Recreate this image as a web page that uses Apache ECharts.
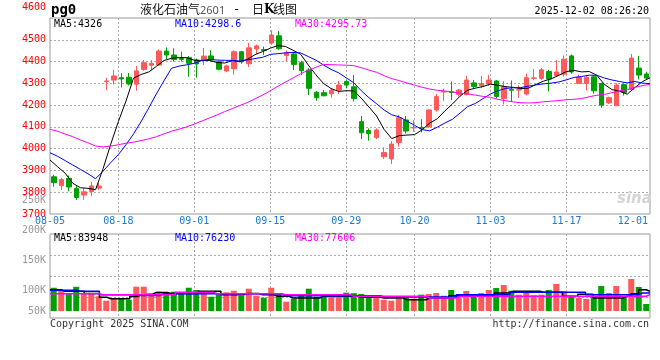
<!DOCTYPE html>
<html><head><meta charset="utf-8">
<script src="https://cdn.jsdelivr.net/npm/echarts@6/dist/echarts.min.js"></script>
<style>html,body{margin:0;padding:0;background:#fff}#c{width:660px;height:360px}</style>
</head><body><div id="c"></div>
<script>
const dates = ['08-05','08-06','08-07','08-08','08-11','08-12','08-13','08-14','08-15','08-18','08-19','08-20','08-21','08-22','08-25','08-26','08-27','08-28','08-29','09-01','09-02','09-03','09-04','09-05','09-08','09-09','09-10','09-11','09-12','09-15','09-16','09-17','09-18','09-19','09-22','09-23','09-24','09-25','09-26','09-29','09-30','10-09','10-10','10-13','10-14','10-15','10-16','10-17','10-20','10-21','10-22','10-23','10-24','10-27','10-28','10-29','10-30','10-31','11-03','11-04','11-05','11-06','11-07','11-10','11-11','11-12','11-13','11-14','11-17','11-18','11-19','11-20','11-21','11-24','11-25','11-26','11-27','11-28','12-01','12-02'];
const tickDates = ['08-05','08-18','09-01','09-15','09-29','10-20','11-03','11-17','12-01'];

const opens = [3871,3830,3864,3818,3787,3803,3819,4308,4315,4326,
4328,4296,4364,4383,4384,4448,4430,4414,4418,4407,
4404,4426,4399,4357,4367,4445,4390,4458,4455,4485,
4518,4428,4435,4395,4361,4259,4257,4252,4269,4308,
4284,4124,4083,4051,3963,3953,4028,4132,4095,4098,
4101,4178,4260,4261,4249,4248,4302,4289,4297,4311,
4230,4272,4269,4251,4323,4323,4354,4336,4342,4426,
4299,4299,4330,4299,4210,4197,4294,4272,4370,4343];
const closes = [3844,3858,3824,3776,3802,3829,3828,4311,4334,4320,
4297,4357,4395,4392,4448,4430,4410,4410,4392,4389,
4425,4407,4365,4380,4445,4399,4463,4472,4451,4522,
4459,4442,4387,4358,4277,4234,4243,4269,4292,4292,
4230,4073,4069,4086,3982,4021,4142,4081,4097,4092,
4178,4239,4263,4258,4269,4315,4285,4299,4315,4240,
4285,4268,4271,4326,4325,4362,4320,4352,4411,4352,
4328,4328,4266,4200,4234,4292,4258,4416,4338,4324];
const lows = [3825,3810,3804,3765,3765,3782,3810,4269,4295,4281,
4290,4266,4358,4360,4380,4410,4400,4400,4330,4326,
4384,4400,4360,4351,4340,4390,4375,4435,4431,4477,
4454,4403,4361,4338,4246,4220,4240,4234,4251,4277,
4217,4044,4037,4044,3953,3930,4009,4070,4078,4075,
4096,4170,4220,4223,4239,4245,4277,4279,4288,4231,
4203,4215,4233,4244,4314,4315,4263,4333,4330,4344,
4298,4267,4253,4188,4205,4196,4244,4265,4318,4318];
const highs = [3880,3866,3877,3833,3818,3848,3843,4325,4361,4347,
4348,4380,4407,4407,4456,4465,4461,4445,4425,4414,
4462,4452,4402,4386,4452,4449,4485,4478,4469,4543,
4540,4451,4445,4404,4369,4265,4269,4275,4311,4315,
4338,4150,4093,4093,4006,4035,4155,4150,4132,4135,
4181,4251,4276,4308,4274,4334,4315,4334,4338,4315,
4310,4313,4290,4345,4366,4370,4362,4407,4428,4433,
4340,4338,4338,4303,4239,4300,4300,4435,4426,4353];

const ma5 = [3948,3917,3887,3841,3820.8,3817.8,3811.8,3909.2,4020.8,4124.4,
4218,4323.8,4340.6,4352.2,4377.8,4404.4,4415,4418,4418,4406.2,
4405.2,4404.6,4395.6,4393.2,4404.4,4399.2,4410.4,4431.8,4446,4461.4,
4473.4,4469.2,4452.2,4433.6,4384.6,4339.6,4299.8,4276.2,4263,4266,
4265.2,4231.2,4191.2,4150,4088,4046.2,4060,4062.4,4064.6,4086.6,
4118,4137.4,4173.6,4205.8,4241.2,4268.6,4277.8,4285.2,4296.6,4290.8,
4284.8,4281.4,4275.8,4278,4295,4310.4,4320.8,4337,4354,4359.4,
4352.6,4354.2,4337,4294.8,4271.2,4264,4250,4280,4307.6,4325.6];
const ma10 = [3981,3965,3945,3925,3905,3885,3862,3897,3936,3972.6,
4017.9,4067.8,4124.9,4186.5,4251.1,4311.2,4369.4,4379.3,4385.1,4392,
4404.8,4409.8,4406.8,4405.6,4405.3,4402.2,4407.5,4413.7,4419.6,4432.9,
4436.3,4439.8,4442,4439.8,4423,4406.5,4384.5,4364.2,4348.3,4325.3,
4302.4,4265.5,4233.7,4206.5,4177,4155.7,4145.6,4126.8,4107.3,4087.3,
4082.1,4098.7,4118,4135.2,4163.9,4193.3,4207.6,4229.4,4251.2,4266,
4276.7,4279.6,4280.5,4287.3,4292.9,4297.6,4301.1,4306.4,4316,4327.2,
4331.5,4337.5,4337,4324.4,4315.3,4308.3,4302.1,4308.5,4301.2,4298.6];
const ma30 = [4089,4080,4067,4055,4040,4027,4012,4008,4012,4018,
4025,4030,4037,4045,4055,4068,4080,4090,4100,4113,
4127,4141,4155,4170,4184,4198,4212,4229,4246,4265.8,
4286.3,4305.8,4324.6,4344,4359.8,4373.3,4387.1,4385.7,4384.3,4383.4,
4381.2,4371.7,4360.8,4350.6,4335.1,4321.5,4312.5,4301.6,4291.7,4281.8,
4273.6,4268,4264.6,4260.5,4254.6,4251.8,4245.9,4240.1,4235.6,4226.2,
4220.4,4214.6,4210.7,4209.7,4211.3,4215.5,4218.1,4220.9,4224.8,4226.8,
4230.1,4238.6,4245.2,4249,4257.4,4266.4,4270.3,4281.4,4289.5,4295.73];

const volumes = [103700,98300,95000,105300,95000,93300,89500,82200,86200,85000,
83800,105500,105500,90000,97200,96200,97200,94500,103800,100000,
98300,88800,94500,96200,98800,90500,102200,90500,87200,103800,
95000,80500,85500,90000,102200,88300,88300,88800,90000,95500,
94700,93300,90500,86700,83800,82200,85500,86700,85500,92200,
93300,95000,90500,100000,90500,98300,92200,95000,100000,103300,
108300,98800,92200,95000,91200,92200,100000,110000,97800,90500,
86700,85000,89500,106700,95000,106700,86700,118300,105000,76700];
const vma5 = [100500,100500,97800,97800,97800,94000,94000,88000,85500,85500,
85500,89000,92000,93000,96000,96000,94000,94000,94000,94000,
97800,97800,97800,92000,92000,92000,94000,94000,92000,92000,
89500,89500,86700,86700,86700,86700,89500,89500,89500,89500,
89500,88000,88000,88000,86700,86700,86700,83800,83800,83800,
86700,86700,86700,90500,90500,90500,90500,90500,90500,95000,
95000,97800,97800,97800,97800,96200,96200,96200,89500,89500,
93000,93000,86700,86700,86700,86700,89500,93800,100500,97800];
const vma10 = [99500,99500,99500,99500,97800,97800,97800,92200,92200,92200,
92200,92200,91000,91000,91000,93800,93800,93800,93800,93800,
93800,93800,93800,93800,93800,93800,93800,93800,93800,93800,
93800,90500,90500,90500,90500,90500,90500,90500,90500,90500,
90500,90500,90500,90500,88300,88300,88300,88300,88300,88300,
88300,88300,88300,88300,92200,92200,92200,92200,92200,92200,
92200,96200,96200,96200,96200,96200,96200,96200,96200,96200,
96200,92200,92200,92200,92200,92200,92200,92200,95000,95000];
const vma30 = [93800,93800,93800,93800,93800,93800,93800,92200,92200,92200,
92200,92200,92200,92200,92200,92200,92200,96200,96200,96200,
96200,96200,93800,93800,93800,93800,93800,93800,93800,93800,
93800,92200,92200,92200,92200,92200,92200,92200,92200,92200,
89500,89500,89500,89500,89500,89500,89500,89500,89500,89500,
86700,86700,86700,86700,89500,89500,89500,89500,89500,89500,
89500,89500,89500,89500,89500,89500,89500,89500,89500,89500,
89500,89500,89500,89500,89500,89500,89500,89500,89500,92200];
const volMaText = ['83948','76230','77606'];
const priceTicks = [3700, 4600, 100];
const volTicks = [50000, 250000, 50000];

const RED = '#ff5a5a', GREEN = '#00a000';
const MONO = '"DejaVu Sans Mono", monospace';
const GRIDC = '#aaaaaa';
const lastTick = dates.indexOf('12-01');
const isTick = i => tickDates.indexOf(dates[i]) >= 0;
const isLine = i => isTick(i) && i > 0 && i < lastTick;

function txt(x, y, text, color, font, align) {
  return {type:'text', x:x, y:y, silent:true, z:100,
    style:{text:text, fill:color, font:font, align:align||'left', verticalAlign:'middle',
           textAlign:align||'left', textVerticalAlign:'middle'}};
}
const dotted = {color:GRIDC, type:[2,2], width:1};

const chart = echarts.init(document.getElementById('c'), null, {renderer:'canvas'});
const option = {
  animation:false,
  backgroundColor:'#fff',
  grid:[
    {left:50, top:18, width:600, height:196, show:true, borderColor:'#999', borderWidth:1, backgroundColor:'transparent'},
    {left:50, top:234, width:600, height:77},
    {left:50, top:200, width:600, height:120},
    {left:50, top:234, width:600, height:84, show:true, borderColor:'#999', borderWidth:1, backgroundColor:'transparent'}
  ],
  xAxis:[
    {type:'category', gridIndex:0, data:dates, boundaryGap:true, show:false},
    {type:'category', gridIndex:0, data:dates, boundaryGap:false, position:'bottom',
      axisLine:{show:false}, axisTick:{show:false},
      axisLabel:{interval:(i)=>isTick(i), color:'#1a78d2', fontFamily:MONO, fontSize:10, margin:2,
        formatter:(v, i)=> i===lastTick ? '{e|'+v+'}' : v,
        rich:{e:{padding:[0,19,0,0], color:'#1a78d2', fontFamily:MONO, fontSize:10}}},
      splitLine:{show:true, interval:(i)=>isLine(i), lineStyle:dotted}},
    {type:'category', gridIndex:1, data:dates, boundaryGap:true, show:false},
    {type:'category', gridIndex:1, data:dates, boundaryGap:false, show:false},
    {type:'category', gridIndex:2, data:dates, show:false},
    {type:'category', gridIndex:3, data:dates, boundaryGap:false,
      axisLine:{show:false}, axisTick:{show:false}, axisLabel:{show:false},
      splitLine:{show:true, interval:(i)=>isLine(i), lineStyle:dotted}}
  ],
  yAxis:[
    {type:'value', gridIndex:0, min:priceTicks[0], max:priceTicks[1], interval:priceTicks[2],
      axisLine:{show:false}, axisTick:{show:false},
      axisLabel:{color:'#ff0000', fontFamily:MONO, fontSize:10, margin:4,
        formatter:(v)=> v===priceTicks[1] ? '{t|'+v+'}' : String(v),
        rich:{t:{padding:[0,0,22,0], color:'#ff0000', fontFamily:MONO, fontSize:10}}},
      splitLine:{show:true, showMinLine:false, showMaxLine:false, lineStyle:dotted}},
    {type:'value', gridIndex:1, min:65000, max:193333, show:false, splitLine:{show:false}},
    {type:'value', gridIndex:2, min:volTicks[0], max:volTicks[1], interval:volTicks[2],
      axisLine:{show:false}, axisTick:{show:false}, splitLine:{show:false},
      axisLabel:{color:'#999999', fontFamily:MONO, fontSize:10, margin:4,
        formatter:(v)=> v===volTicks[0] ? '{b|'+(v/1000)+'K}' : (v/1000)+'K',
        rich:{b:{padding:[0,0,18,0], color:'#999999', fontFamily:MONO, fontSize:10}}}},
    {type:'value', gridIndex:3, min:0, max:80, interval:20,
      axisLine:{show:false}, axisTick:{show:false}, axisLabel:{show:false},
      splitLine:{show:true, showMinLine:false, showMaxLine:false, lineStyle:dotted}}
  ],
  series:[
    {type:'candlestick', xAxisIndex:0, yAxisIndex:0, barWidth:5,
      data: dates.map((d,i)=>[opens[i], closes[i], lows[i], highs[i]]),
      itemStyle:{color:RED, color0:GREEN, borderColor:RED, borderColor0:GREEN, borderWidth:1}},
    {type:'line', xAxisIndex:1, yAxisIndex:0, data:ma5, symbol:'none', lineStyle:{color:'#000000', width:1}},
    {type:'line', xAxisIndex:1, yAxisIndex:0, data:ma10, symbol:'none', lineStyle:{color:'#0000ff', width:1}},
    {type:'line', xAxisIndex:1, yAxisIndex:0, data:ma30, symbol:'none', lineStyle:{color:'#ff00ff', width:1}},
    {type:'bar', xAxisIndex:2, yAxisIndex:1, barWidth:6, clip:true,
      data: volumes.map((v,i)=>({value:v, itemStyle:{color: closes[i] > opens[i] ? RED : GREEN}}))},
    {type:'line', xAxisIndex:3, yAxisIndex:1, data:vma5, symbol:'none', step:'middle', lineStyle:{color:'#000000', width:1.5}},
    {type:'line', xAxisIndex:3, yAxisIndex:1, data:vma10, symbol:'none', step:'middle', lineStyle:{color:'#0000ff', width:1.5}},
    {type:'line', xAxisIndex:3, yAxisIndex:1, data:vma30, symbol:'none', step:'middle', lineStyle:{color:'#ff00ff', width:1.5}},
    {type:'line', xAxisIndex:4, yAxisIndex:2, data:[], symbol:'none', silent:true}
  ],
  graphic:[
    txt(51, 10.5, 'pg0', '#000', 'bold 14px "DejaVu Sans Mono"'),
    txt(140, 9.5, '液化石油气', '#111', '12px "Noto Sans CJK SC"'),
    txt(200, 10.5, '2601', '#555', '11px "Noto Sans"'),
    txt(233, 9.5, '-', '#111', '12px "DejaVu Sans Mono"'),
    txt(252, 9.5, '日', '#111', '12px "Noto Sans CJK SC"'),
    txt(264, 10, 'K', '#000', 'bold 12px "DejaVu Serif"'),
    txt(273, 9.5, '线图', '#111', '12px "Noto Sans CJK SC"'),
    txt(649, 11.5, '2025-12-02 08:26:20', '#000', '10px ' + MONO, 'right'),
    txt(54, 24, 'MA5:' + ma5[ma5.length-1].toFixed(0), '#000000', '10px ' + MONO),
    txt(175, 24, 'MA10:' + ma10[ma10.length-1].toFixed(1), '#0000ff', '10px ' + MONO),
    txt(295, 24, 'MA30:' + ma30[ma30.length-1].toFixed(2), '#ff00ff', '10px ' + MONO),
    txt(54, 238.5, 'MA5:' + volMaText[0], '#000000', '10px ' + MONO),
    txt(175, 238.5, 'MA10:' + volMaText[1], '#0000ff', '10px ' + MONO),
    txt(295, 238.5, 'MA30:' + volMaText[2], '#ff00ff', '10px ' + MONO),
    txt(50, 324.5, 'Copyright 2025 SINA.COM', '#333', '10px ' + MONO),
    txt(649, 324.5, 'http://finance.sina.com.cn', '#333', '10px ' + MONO, 'right'),
    txt(617, 199, 'sina', '#d4d4d4', 'italic bold 15px "DejaVu Sans"')
  ]
};
chart.setOption(option);
</script>
</body></html>
